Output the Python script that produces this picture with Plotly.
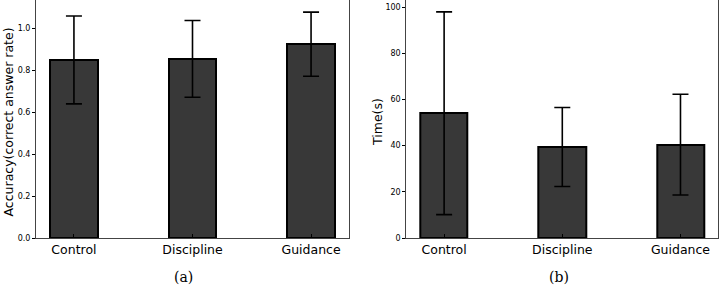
import plotly.graph_objects as go

categories = ["Control", "Discipline", "Guidance"]
accuracy_mean = [0.85, 0.855, 0.925]
accuracy_err = [0.21, 0.183, 0.153]
time_mean = [54.0, 39.4, 40.4]
time_err = [43.9, 17.1, 21.8]
acc_ticks = [0.0, 0.2, 0.4, 0.6, 0.8, 1.0]
acc_ticklabels = ["0.0", "0.2", "0.4", "0.6", "0.8", "1.0"]
time_ticks = [0, 20, 40, 60, 80, 100]
time_ticklabels = ["0", "20", "40", "60", "80", "100"]

W, H = 720, 287
FONT = "DejaVu Sans"
BAR = "#383838"

fig = go.Figure()
xi = list(range(len(categories)))

fig.add_trace(go.Bar(
    x=xi, y=accuracy_mean, width=0.4,
    marker=dict(color=BAR, line=dict(color="black", width=2)),
    error_y=dict(type="data", array=accuracy_err, color="black", thickness=1.6, width=8),
    xaxis="x", yaxis="y", showlegend=False))
fig.add_trace(go.Bar(
    x=xi, y=time_mean, width=0.4,
    marker=dict(color=BAR, line=dict(color="black", width=2)),
    error_y=dict(type="data", array=time_err, color="black", thickness=1.6, width=8),
    xaxis="x2", yaxis="y2", showlegend=False))

ax_common = dict(showline=True, linecolor="#444444", linewidth=1, mirror=True,
                 showgrid=False, zeroline=False, automargin=False)
xcommon = dict(ax_common, tickmode="array", tickvals=xi, ticktext=categories,
               range=[-0.32, 2.32], ticks="inside", ticklen=4, tickcolor="black",
               tickfont=dict(family=FONT, size=12.5, color="black"))
ycommon = dict(ax_common, ticks="outside", ticklen=3, tickcolor="black",
               tickfont=dict(family=FONT, size=8, color="black"))

ybot = (H - 238) / H
fig.update_layout(
    template="none",
    width=W, height=H, margin=dict(l=0, r=0, t=0, b=0, pad=0),
    plot_bgcolor="white", paper_bgcolor="white",
    xaxis=dict(xcommon, domain=[36 / W, 349 / W], anchor="y"),
    yaxis=dict(ycommon, domain=[ybot, 1], range=[0, 238 / 209.5], anchor="x",
               tickvals=acc_ticks, ticktext=acc_ticklabels),
    xaxis2=dict(xcommon, domain=[406.3 / W, 718.3 / W], anchor="y2"),
    yaxis2=dict(ycommon, domain=[ybot, 1], range=[0, 238 / 231 * 100], anchor="x2",
                tickvals=time_ticks, ticktext=time_ticklabels),
    bargap=0,
)

annotations = [
    dict(text="Accuracy(correct answer rate)", x=8.5 / W, y=(H - 122) / H, textangle=-90,
         font=dict(family=FONT, size=12.5, color="black")),
    dict(text="Time(s)", x=378 / W, y=(H - 122) / H, textangle=-90,
         font=dict(family=FONT, size=12.5, color="black")),
    dict(text="(a)", x=183 / W, y=(H - 277) / H,
         font=dict(family="DejaVu Serif", size=14, color="black")),
    dict(text="(b)", x=559 / W, y=(H - 277) / H,
         font=dict(family="DejaVu Serif", size=14, color="black")),
]
for a in annotations:
    a.update(xref="paper", yref="paper", showarrow=False, xanchor="center", yanchor="middle")
fig.update_layout(annotations=annotations)

fig.write_html("out.html", config={"displayModeBar": False},
               post_script="document.body.style.margin='0';document.body.style.overflow='hidden';")
